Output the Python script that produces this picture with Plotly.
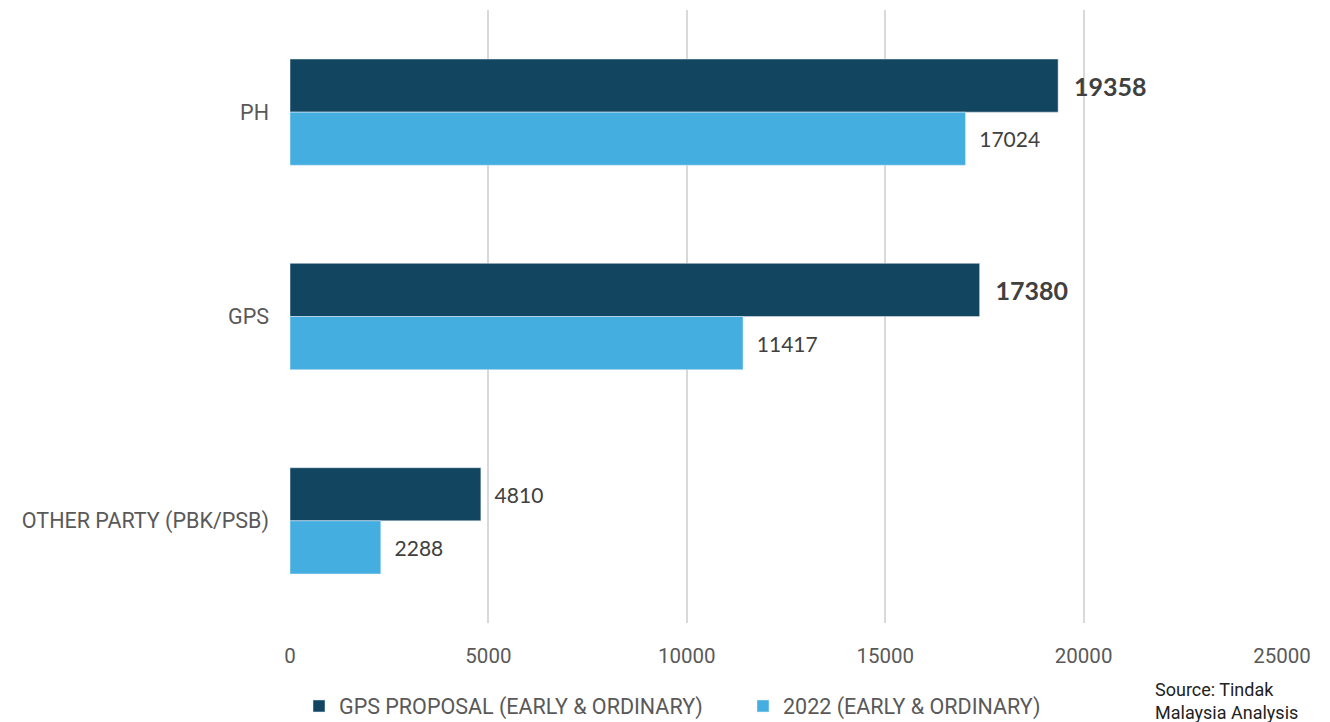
import plotly.graph_objects as go

categories = ["PH", "GPS", "OTHER PARTY (PBK/PSB)"]
proposal_values = [19358, 17380, 4810]
values_2022 = [17024, 11417, 2288]
proposal_bold = [True, True, False]
series_names = ["GPS PROPOSAL (EARLY & ORDINARY)", "2022 (EARLY & ORDINARY)"]
tick_values = [0, 5000, 10000, 15000, 20000, 25000]
tick_labels = ["0", "5000", "10000", "15000", "20000", "25000"]

NARROW = "Roboto, sans-serif"
LABEL = "Lato, Noto Sans, sans-serif"
PAD = "\u00a0\u00a0"

fig = go.Figure()
fig.add_trace(go.Bar(
    y=categories, x=proposal_values, orientation="h", name=series_names[0],
    marker=dict(color="#124660"),
    text=[str(v) for v in proposal_values],
    texttemplate=[PAD + ("<b>%{text}</b>" if b else "%{text}") for b in proposal_bold],
    textposition="outside", cliponaxis=False,
    textfont=dict(family=LABEL, size=[25 if b else 21 for b in proposal_bold], color="#404040"),
))
fig.add_trace(go.Bar(
    y=categories, x=values_2022, orientation="h", name=series_names[1],
    marker=dict(color="#45aee0"),
    text=[str(v) for v in values_2022], texttemplate=PAD + "%{text}",
    textposition="outside", cliponaxis=False,
    textfont=dict(family=LABEL, size=21, color="#404040"),
))

fig.update_layout(
    width=1322, height=714,
    margin=dict(l=282, r=48, t=2, b=99),
    paper_bgcolor="white", plot_bgcolor="white",
    barmode="group", bargap=0.48, bargroupgap=0,
    showlegend=True,
    legend=dict(orientation="h", xref="container", yref="container",
                x=291 / 1322, xanchor="left", y=(714 - 698) / 714, yanchor="middle",
                font=dict(family=NARROW, size=21.5, color="#595959"),
                itemwidth=30, entrywidth=399, entrywidthmode="pixels",
                traceorder="normal"),
    xaxis=dict(range=[0, 25000], tickvals=tick_values, ticktext=tick_labels,
               showgrid=True, gridcolor="#d9d9d9", gridwidth=1.5, zeroline=False,
               showline=False, ticks="", ticklabelstandoff=18,
               tickfont=dict(family=NARROW, size=20.5, color="#595959")),
    yaxis=dict(autorange="reversed", showgrid=False, zeroline=False,
               showline=False, ticks="", ticklabelstandoff=20,
               tickfont=dict(family=NARROW, size=21.5, color="#595959")),
    annotations=[dict(
        text="Source: Tindak<br>Malaysia Analysis", xref="paper", yref="paper",
        x=(1153 - 290) / 992, y=-0.088, xanchor="left", yanchor="top", align="left",
        showarrow=False, font=dict(family=NARROW, size=18, color="#222222"),
    )],
)

fig.write_html("out.html")
